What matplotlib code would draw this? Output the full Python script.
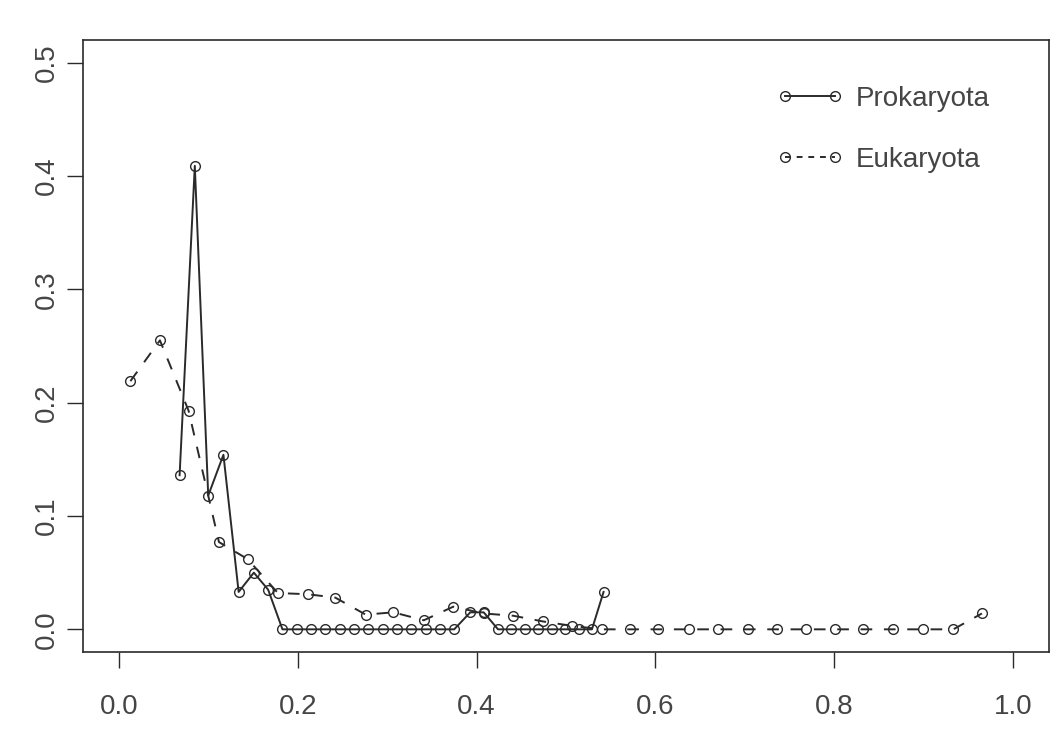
import matplotlib
matplotlib.use('Agg')
import matplotlib.pyplot as plt
from matplotlib.lines import Line2D

# ================= data =================
prok_x = [0.068, 0.085, 0.100, 0.117, 0.134, 0.151, 0.167, 0.183, 0.199, 0.215,
          0.231, 0.247, 0.263, 0.279, 0.295, 0.311, 0.327, 0.343, 0.359, 0.375,
          0.393, 0.408, 0.424, 0.439, 0.454, 0.469, 0.484, 0.499, 0.514, 0.529,
          0.542]
prok_y = [0.136, 0.409, 0.118, 0.154, 0.033, 0.050, 0.035, 0.0, 0.0, 0.0,
          0.0, 0.0, 0.0, 0.0, 0.0, 0.0, 0.0, 0.0, 0.0, 0.0,
          0.015, 0.015, 0.0, 0.0, 0.0, 0.0, 0.0, 0.0, 0.0, 0.0,
          0.033]

euk_x = [0.013, 0.046, 0.078, 0.112, 0.144, 0.178, 0.211, 0.242, 0.276, 0.307,
         0.341, 0.374, 0.408, 0.441, 0.474, 0.507, 0.540, 0.572, 0.603, 0.637,
         0.670, 0.703, 0.736, 0.768, 0.801, 0.832, 0.866, 0.899, 0.933, 0.965]
euk_y = [0.219, 0.255, 0.193, 0.077, 0.062, 0.032, 0.031, 0.028, 0.013, 0.015,
         0.008, 0.020, 0.014, 0.012, 0.007, 0.003, 0.0, 0.0, 0.0, 0.0,
         0.0, 0.0, 0.0, 0.0, 0.0, 0.0, 0.0, 0.0, 0.0, 0.014]

x_ticks = [0.0, 0.2, 0.4, 0.6, 0.8, 1.0]
y_ticks = [0.0, 0.1, 0.2, 0.3, 0.4, 0.5]
x_labels = ['0.0', '0.2', '0.4', '0.6', '0.8', '1.0']
y_labels = ['0.0', '0.1', '0.2', '0.3', '0.4', '0.5']

# ================= style =================
plt.rcParams['font.family'] = ['Liberation Sans', 'DejaVu Sans']
INK = '#2a2a2a'
TXT = '#454545'

W, H = 1051, 731
fig = plt.figure(figsize=(W / 100, H / 100), dpi=100)
fig.patch.set_facecolor('white')
# axes box in pixels: left 83, right 1049, top 40, bottom 652
ax = fig.add_axes([83 / W, (H - 652) / H, (1049 - 83) / W, (652 - 40) / H])

mk = dict(marker='o', markersize=7, fillstyle='none', markeredgewidth=1.0)
ax.plot(prok_x, prok_y, color=INK, lw=1.4, linestyle='-', **mk)
ax.plot(euk_x, euk_y, color=INK, lw=1.4, linestyle=(0, (6, 6)), **mk)

# R style limits: 4% padding
ax.set_xlim(-0.04, 1.04)
ax.set_ylim(-0.02, 0.52)

ax.set_xticks(x_ticks)
ax.set_xticklabels(x_labels)
ax.set_yticks(y_ticks)
ax.set_yticklabels(y_labels, rotation=90, va='center')
ax.tick_params(axis='both', direction='out', length=11.5, width=1.0,
               color=INK, labelsize=20, labelcolor=TXT)
ax.tick_params(axis='x', pad=19)
ax.tick_params(axis='y', pad=5)

for s in ax.spines.values():
    s.set_color(INK)
    s.set_linewidth(1.2)

# legend, no frame, top right
handles = [
    Line2D([0], [0], color=INK, lw=1.4, linestyle='-', **mk),
    Line2D([0], [0], color=INK, lw=1.4, linestyle=(0, (3, 3)), **mk),
]
leg = ax.legend(handles, ['Prokaryota', 'Eukaryota'], loc='upper right',
                bbox_to_anchor=((990 - 83) / (1049 - 83), (652 - 86) / (652 - 40)),
                frameon=False, fontsize=20, numpoints=2, handlelength=2.4,
                handletextpad=0.45, labelspacing=1.25, borderpad=0, borderaxespad=0)
for t in leg.get_texts():
    t.set_color(TXT)

fig.savefig('out.png', dpi=100)
